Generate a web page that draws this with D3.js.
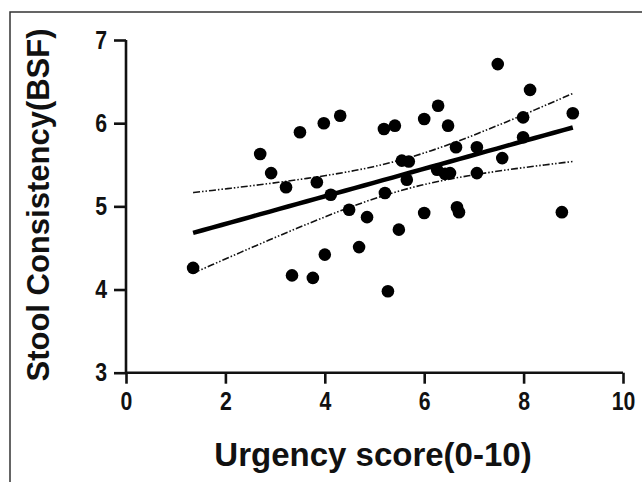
<!DOCTYPE html>
<html>
<head>
<meta charset="utf-8">
<script src="https://cdn.jsdelivr.net/npm/d3@7"></script>
<style>
body { margin: 0; background: #fff; }
text { font-family: "Liberation Sans", Arial, sans-serif; font-weight: bold; fill: #111; }
</style>
</head>
<body>
<div id="chart"></div>
<script>
// urgency score (x) and stool consistency (y)
const urgency = [1.35, 2.70, 2.92, 3.22, 3.50, 3.34, 3.76, 3.84, 3.98, 4.31,
  4.00, 4.12, 4.49, 4.85, 4.69, 5.19, 5.41, 5.49, 5.21, 5.27,
  5.55, 5.69, 5.65, 6.00, 6.00, 6.28, 6.48, 6.26, 6.42, 6.52,
  6.64, 6.66, 6.70, 7.06, 7.06, 7.48, 7.57, 7.99, 7.99, 8.13,
  8.77, 8.99]
const bsf = [4.26, 5.63, 5.40, 5.23, 5.89, 4.17, 4.14, 5.29, 6.00, 6.09,
  4.42, 5.14, 4.96, 4.87, 4.51, 5.93, 5.97, 4.72, 5.16, 3.98,
  5.55, 5.54, 5.32, 6.05, 4.92, 6.21, 5.97, 5.44, 5.39, 5.40,
  5.71, 4.99, 4.93, 5.71, 5.40, 6.71, 5.58, 6.07, 5.83, 6.40,
  4.93, 6.12]
const xTicks = [0, 2, 4, 6, 8, 10]
const yTicks = [3, 4, 5, 6, 7]

const width = 642, height = 482

const svg = d3.select("#chart").append("svg")
    .attr("width", width)
    .attr("height", height)

// frame (top and left edge of the cropped figure)
svg.append("path")
    .attr("d", "M10,482V12H642")
    .attr("fill", "none")
    .attr("stroke", "#333")
    .attr("stroke-width", 1.5)

const x = d3.scaleLinear().domain([0, 10]).range([126, 623])
const y = d3.scaleLinear().domain([3, 7]).range([372.7, 40])

// x axis
const gx = svg.append("g")
    .attr("transform", "translate(0," + y(3) + ")")
    .call(d3.axisBottom(x).tickValues(xTicks).tickFormat(d3.format("d"))
        .tickSize(11).tickPadding(8))
// tick digits in the figure are narrow and tall
gx.selectAll("text")
    .style("font-size", "25px")
    .attr("dy", "0.72em")
    .attr("transform", "scale(0.85,1)")

// y axis
const gy = svg.append("g")
    .attr("transform", "translate(" + x(0) + ",0)")
    .call(d3.axisLeft(y).tickValues(yTicks).tickFormat(d3.format("d"))
        .tickSize(12).tickPadding(5))
gy.selectAll("text")
    .style("font-size", "25px")
    .attr("x", 0)
    .attr("transform", "translate(-19,0) scale(0.85,1)")

svg.selectAll(".domain, .tick line")
    .attr("stroke", "#111")
    .attr("stroke-width", 2.6)
gx.select(".domain").attr("d", "M" + x(0) + ",0H" + x(10))
gy.select(".domain").attr("d", "M0," + y(3) + "V" + y(7))

// linear regression with 95% confidence band
const n = urgency.length
const mx = d3.mean(urgency), my = d3.mean(bsf)
let sxx = 0, sxy = 0
for (let i = 0; i < n; i++) {
    sxx += (urgency[i] - mx) ** 2
    sxy += (urgency[i] - mx) * (bsf[i] - my)
}
const slope = sxy / sxx
const icpt = my - slope * mx
let sse = 0
for (let i = 0; i < n; i++) sse += (bsf[i] - icpt - slope * urgency[i]) ** 2
const s = Math.sqrt(sse / (n - 2))
const tval = 2.021
const [xmin, xmax] = d3.extent(urgency)
const xs = d3.range(0, 41).map(k => xmin + (xmax - xmin) * k / 40)
const fit = xs.map(v => ({x: v, y: icpt + slope * v,
    h: tval * s * Math.sqrt(1 / n + (v - mx) ** 2 / sxx)}))

const line = d3.line().x(d => x(d.x)).y(d => y(d.y))
const upper = d3.line().x(d => x(d.x)).y(d => y(d.y + d.h)).curve(d3.curveMonotoneX)
const lower = d3.line().x(d => x(d.x)).y(d => y(d.y - d.h)).curve(d3.curveMonotoneX)

svg.append("path").datum(fit).attr("d", upper)
    .attr("fill", "none").attr("stroke", "#111").attr("stroke-width", 1.6)
    .attr("stroke-dasharray", "7,2,1.5,2,1.5,2")
svg.append("path").datum(fit).attr("d", lower)
    .attr("fill", "none").attr("stroke", "#111").attr("stroke-width", 1.6)
    .attr("stroke-dasharray", "7,2,1.5,2,1.5,2")
svg.append("path").datum(fit).attr("d", line)
    .attr("fill", "none").attr("stroke", "#000").attr("stroke-width", 4.5)

// points
svg.selectAll(".dot")
    .data(urgency)
  .enter().append("circle")
    .attr("class", "dot")
    .attr("cx", d => x(d))
    .attr("cy", (d, i) => y(bsf[i]))
    .attr("r", 6.3)
    .attr("fill", "#000")

// axis titles
svg.append("text")
    .attr("x", 373)
    .attr("y", 466)
    .attr("text-anchor", "middle")
    .style("font-size", "33px")
    .text("Urgency score(0-10)")

svg.append("text")
    .attr("transform", "translate(49,205) rotate(-90)")
    .attr("text-anchor", "middle")
    .style("font-size", "31px")
    .text("Stool Consistency(BSF)")
</script>
</body>
</html>
